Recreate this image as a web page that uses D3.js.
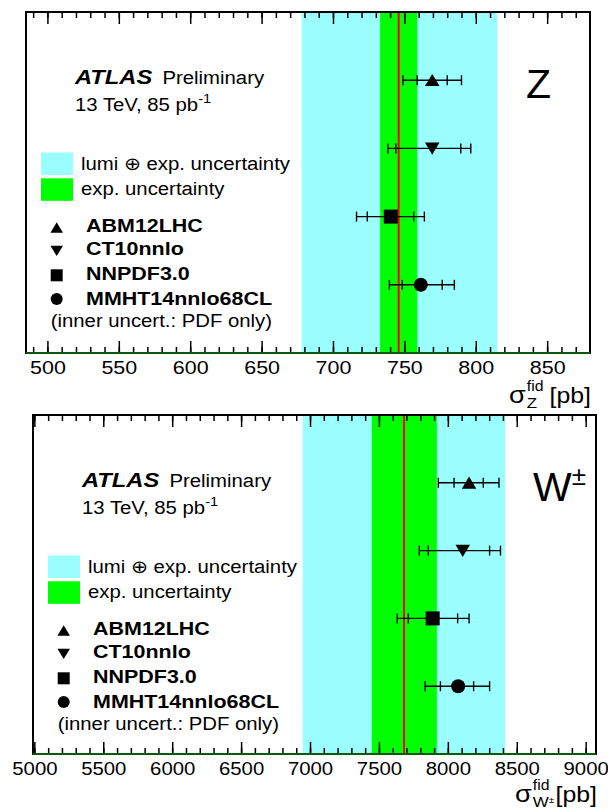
<!DOCTYPE html>
<html>
<head>
<meta charset="utf-8">
<script src="https://cdn.jsdelivr.net/npm/d3@7"></script>
<style>
  html, body { margin: 0; padding: 0; background: #fff; }
  svg { display: block; font-family: "Liberation Sans", Arial, Helvetica, sans-serif; }
</style>
</head>
<body>
<svg id="chart" width="608" height="811"></svg>
<script>
// PDF sets and their marker shapes
const pdfSets = ["ABM12LHC", "CT10nnlo", "NNPDF3.0", "MMHT14nnlo68CL"];
const markerShapes = ["triangleUp", "triangleDown", "square", "circle"];

// Z boson fiducial cross section [pb]
const zMeasured = 746;
const zExpBand = [733, 759];
const zLumiBand = [678, 815];
const zPred = [769.5, 769.5, 740.5, 761.5];
const zPdfLo = [759, 744, 724, 748.5];
const zPdfHi = [780, 789.5, 756.5, 776.5];
const zTotLo = [749, 738.5, 716.5, 739.5];
const zTotHi = [790, 796.5, 764, 785];
const zTicks = [500, 550, 600, 650, 700, 750, 800, 850];

// W± fiducial cross section [pb]
const wMeasured = 7682;
const wExpBand = [7448, 7920];
const wLumiBand = [6947, 8417];
const wPred = [8154, 8108, 7890, 8075];
const wPdfLo = [8045, 7858, 7713, 7946];
const wPdfHi = [8257, 8303, 8071, 8187];
const wTotLo = [7931, 7793, 7633, 7835];
const wTotHi = [8371, 8382, 8154, 8303];
const wTicks = [5000, 5500, 6000, 6500, 7000, 7500, 8000, 8500, 9000];

const svg = d3.select("#chart");
const FONT = "'Liberation Sans', Arial, Helvetica, sans-serif";
const SX = 1.13; // horizontal widening of the annotation font

// text placed at (x, y) and widened horizontally around its anchor
function txt(g, x, y, size, anchor) {
  return g.append("text")
    .attr("transform", `translate(${x},${y}) scale(${SX},1)`)
    .attr("font-family", FONT).attr("font-size", size).attr("fill", "#000")
    .attr("text-anchor", anchor || "start");
}

function markerPath(shape, size) {
  const s = size;
  switch (shape) {
    case "triangleUp":   return `M0,${-s*0.45} L${s*0.52},${s*0.42} L${-s*0.52},${s*0.42} Z`;
    case "triangleDown": return `M0,${s*0.45} L${s*0.52},${-s*0.42} L${-s*0.52},${-s*0.42} Z`;
    case "square":       return `M${-s/2},${-s/2} h${s} v${s} h${-s} Z`;
    default:             return d3.symbol(d3.symbolCircle, Math.PI * (s/2) * (s/2))();
  }
}

function drawPanel(cfg) {
  const { left, top, width, height, domain, ticks, minorStep, tickFont, titleGap,
          measured, expBand, lumiBand, pred, pdfLo, pdfHi, totLo, totHi, label, labelSup, axisSub, axisSubSup } = cfg;
  const g = svg.append("g");
  const x = d3.scaleLinear().domain(domain).range([left, left + width]);
  const y = d3.scaleLinear().domain([0, 5]).range([top, top + height]);

  // uncertainty bands
  g.append("rect").attr("x", x(lumiBand[0])).attr("y", top)
    .attr("width", x(lumiBand[1]) - x(lumiBand[0])).attr("height", height).attr("fill", "#9cffff");
  g.append("rect").attr("x", x(expBand[0])).attr("y", top)
    .attr("width", x(expBand[1]) - x(expBand[0])).attr("height", height).attr("fill", "#00ff00");
  g.append("line").attr("x1", x(measured)).attr("x2", x(measured))
    .attr("y1", top).attr("y2", top + height).attr("stroke", "#ff0000").attr("stroke-width", 2);

  // ticks (inward, top and bottom)
  const minorTicks = d3.range(Math.ceil(domain[0] / minorStep) * minorStep, domain[1], minorStep)
    .filter(v => v > domain[0] && v < domain[1]);
  const addAxis = (axisFn, ty, values, size, labels) => {
    const a = axisFn(x).tickValues(values).tickSize(size).tickSizeOuter(0).tickPadding(6);
    a.tickFormat(labels ? d3.format("d") : "");
    const ag = g.append("g").attr("transform", `translate(0,${ty})`).call(a);
    ag.select(".domain").remove();
    ag.selectAll(".tick line").attr("stroke", "#000").attr("stroke-width", 1.5);
    return ag;
  };
  addAxis(d3.axisBottom, top + height, minorTicks, -6, false);
  addAxis(d3.axisTop, top, minorTicks, -6, false);
  addAxis(d3.axisTop, top, ticks, -12, false);
  const major = addAxis(d3.axisBottom, top + height, ticks, -12, true);
  major.selectAll(".tick text").attr("font-family", FONT).attr("font-size", tickFont)
    .attr("fill", "#000").attr("y", 8).attr("dy", "0.71em")
    .attr("transform", `scale(${SX},1)`);

  // frame
  g.append("rect").attr("x", left).attr("y", top).attr("width", width).attr("height", height)
    .attr("fill", "none").attr("stroke", "#000").attr("stroke-width", 2);
  g.append("line").attr("x1", left).attr("x2", left + width)
    .attr("y1", top + height).attr("y2", top + height).attr("stroke", "#0b5a0b").attr("stroke-width", 2);

  // predictions with PDF-only (inner) and total (outer) error bars
  pdfSets.forEach((name, i) => {
    const cy = y(i + 1);
    const eg = g.append("g").attr("stroke", "#000").attr("stroke-width", 1.4);
    eg.append("line").attr("x1", x(totLo[i])).attr("x2", x(totHi[i])).attr("y1", cy).attr("y2", cy);
    [totLo[i], totHi[i], pdfLo[i], pdfHi[i]].forEach(v => {
      eg.append("line").attr("x1", x(v)).attr("x2", x(v)).attr("y1", cy - 5).attr("y2", cy + 5);
    });
    g.append("path").attr("d", markerPath(markerShapes[i], 14))
      .attr("transform", `translate(${x(pred[i])},${cy})`).attr("fill", "#000");
  });

  // ATLAS label
  const t1 = txt(g, left + 49, top + 72, 18);
  t1.append("tspan").attr("font-weight", "bold").attr("font-style", "italic").attr("font-size", 21).text("ATLAS");
  t1.append("tspan").attr("dx", 9).text("Preliminary");
  const t2 = txt(g, left + 49, top + 99, 18);
  t2.append("tspan").text("13 TeV, 85 pb");
  t2.append("tspan").attr("dy", -8).attr("font-size", 13).text("-1");

  // band legend
  g.append("rect").attr("x", left + 15).attr("y", top + 140.5).attr("width", 32).attr("height", 22.5).attr("fill", "#9cffff");
  g.append("rect").attr("x", left + 15).attr("y", top + 166.3).attr("width", 32).attr("height", 22.5).attr("fill", "#00ff00");
  txt(g, left + 55, top + 157.5, 18).text("lumi \u2295 exp. uncertainty");
  txt(g, left + 55, top + 183, 18).text("exp. uncertainty");

  // PDF-set legend
  const legY = [215.7, 238.7, 263.3, 287];
  const legBase = [219.7, 243, 268, 293];
  pdfSets.forEach((name, i) => {
    g.append("path").attr("d", markerPath(markerShapes[i], 12))
      .attr("transform", `translate(${left + 30.7},${top + legY[i]})`).attr("fill", "#000");
    txt(g, left + 60, top + legBase[i], 19).attr("font-weight", "bold").text(name);
  });
  txt(g, left + 24.7, top + 315, 18).text("(inner uncert.: PDF only)");

  // boson label
  const bl = g.append("text").attr("x", left + 500).attr("y", top + 86).attr("font-family", FONT)
    .attr("font-size", 41).attr("fill", "#000");
  bl.append("tspan").text(label);
  if (labelSup) bl.append("tspan").attr("dy", -16).attr("font-size", 26).text(labelSup);

  // axis title: sigma^fid_sub [pb], right-aligned with the frame
  const by = top + height + titleGap;
  const right = left + width + 1;
  const pb = txt(g, right, by, 22, "end").text("[pb]");
  const pbW = pb.node().getComputedTextLength() * SX;
  const scriptX = right - pbW - 6;
  const fid = txt(g, scriptX, by - 12, 14, "end").text("fid");
  const fidW = fid.node().getComputedTextLength() * SX;
  const sub = txt(g, scriptX - fidW, by + 5, 15);
  sub.append("tspan").text(axisSub);
  if (axisSubSup) sub.append("tspan").attr("dy", -4).attr("font-size", 9).text(axisSubSup);
  txt(g, scriptX - fidW - 1, by, 24, "end").text("\u03c3");
}

drawPanel({
  left: 26, top: 12, width: 564, height: 341, domain: [485, 880], ticks: zTicks, minorStep: 10,
  tickFont: 19, titleGap: 50,
  measured: zMeasured, expBand: zExpBand, lumiBand: zLumiBand,
  pred: zPred, pdfLo: zPdfLo, pdfHi: zPdfHi, totLo: zTotLo, totHi: zTotHi,
  label: "Z", labelSup: null, axisSub: "Z", axisSubSup: null
});

drawPanel({
  left: 33, top: 415, width: 563, height: 339, domain: [4990, 9075], ticks: wTicks, minorStep: 100,
  tickFont: 18, titleGap: 48,
  measured: wMeasured, expBand: wExpBand, lumiBand: wLumiBand,
  pred: wPred, pdfLo: wPdfLo, pdfHi: wPdfHi, totLo: wTotLo, totHi: wTotHi,
  label: "W", labelSup: "\u00b1", axisSub: "W", axisSubSup: "\u00b1"
});
</script>
</body>
</html>
